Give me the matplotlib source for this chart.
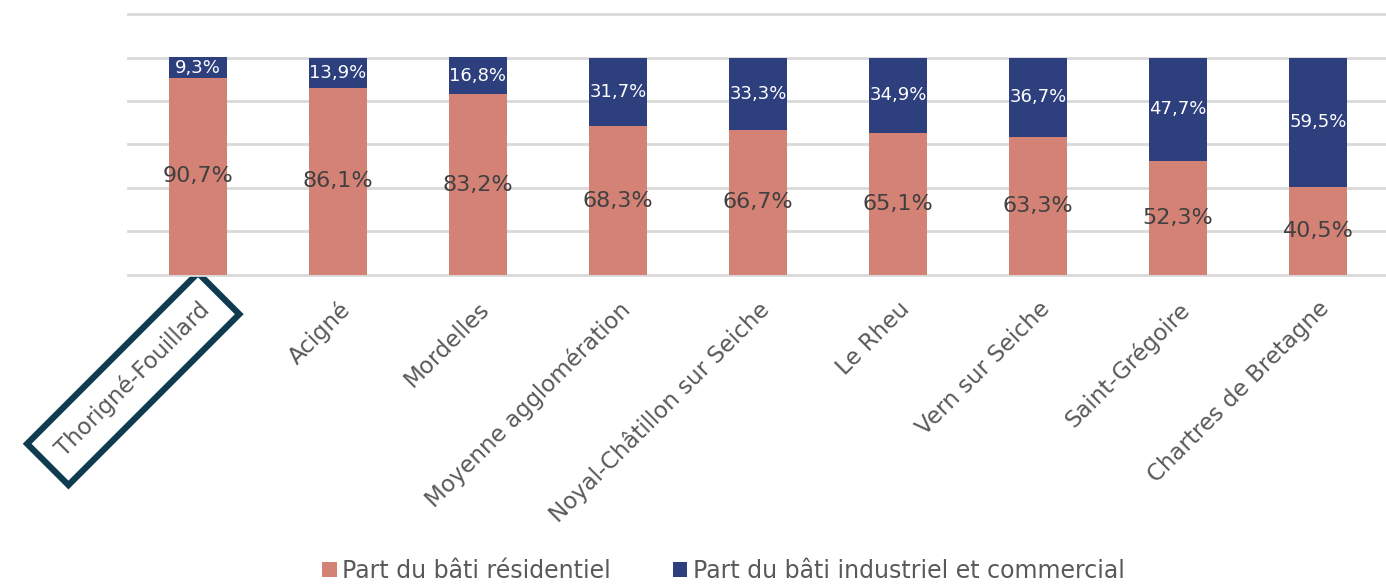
import matplotlib
matplotlib.use("Agg")
import matplotlib.pyplot as plt
import numpy as np

communes = ["Thorigné-Fouillard", "Acigné", "Mordelles", "Moyenne agglomération",
            "Noyal-Châtillon sur Seiche", "Le Rheu", "Vern sur Seiche",
            "Saint-Grégoire", "Chartres de Bretagne"]
residentiel = [90.7, 86.1, 83.2, 68.3, 66.7, 65.1, 63.3, 52.3, 40.5]
industriel = [9.3, 13.9, 16.8, 31.7, 33.3, 34.9, 36.7, 47.7, 59.5]
series_names = ["Part du bâti résidentiel", "Part du bâti industriel et commercial"]

c_res = "#D48276"
c_ind = "#2E3F7E"
plt.rcParams['font.family'] = ['DejaVu Sans']

fig = plt.figure(figsize=(13.86, 5.84), dpi=100)
ax = fig.add_axes([128/1386, 1-275/584, 1260/1386, 261/584])

x = np.arange(len(communes))
w = 0.41
b1 = ax.bar(x, residentiel, w, color=c_res, label=series_names[0], zorder=3)
b2 = ax.bar(x, industriel, w, bottom=residentiel, color=c_ind, label=series_names[1], zorder=3)

fmt = lambda v: f"{v:.1f}%".replace(".", ",")
for xi, r, i in zip(x, residentiel, industriel):
    ax.text(xi, r/2, fmt(r), ha='center', va='center', color='#404040', fontsize=16, zorder=4)
    ax.text(xi, r + i/2, fmt(i), ha='center', va='center', color='white', fontsize=13, zorder=4)

ax.set_xlim(-0.5, len(communes) - 0.5)
ax.set_ylim(0, 120)
ax.set_yticks(np.arange(0, 121, 20))
ax.yaxis.grid(True, color='#D9D9D9', lw=2, zorder=0)
for gl in ax.get_ygridlines():
    gl.set_clip_on(False)
ax.tick_params(axis='y', left=False, labelleft=False)
ax.tick_params(axis='x', length=0, pad=16)
for s in ax.spines.values():
    s.set_visible(False)

ax.set_xticks(x)
labels = ax.set_xticklabels(communes, rotation=45, ha='right', va='top',
                            rotation_mode='anchor', color='#595959', fontsize=16.5)
labels[0].set_bbox(dict(boxstyle='square,pad=0.75', facecolor='white',
                        edgecolor='#0E3B50', linewidth=4.5))

leg = fig.legend(handles=[b1, b2], labels=series_names, loc='lower center',
                 bbox_to_anchor=(0.522, -0.035), ncol=2, frameon=False,
                 fontsize=17, handlelength=0.6, handleheight=0.6,
                 columnspacing=2.6, handletextpad=0.25, labelcolor='#595959')

fig.savefig("out.png", dpi=100)
